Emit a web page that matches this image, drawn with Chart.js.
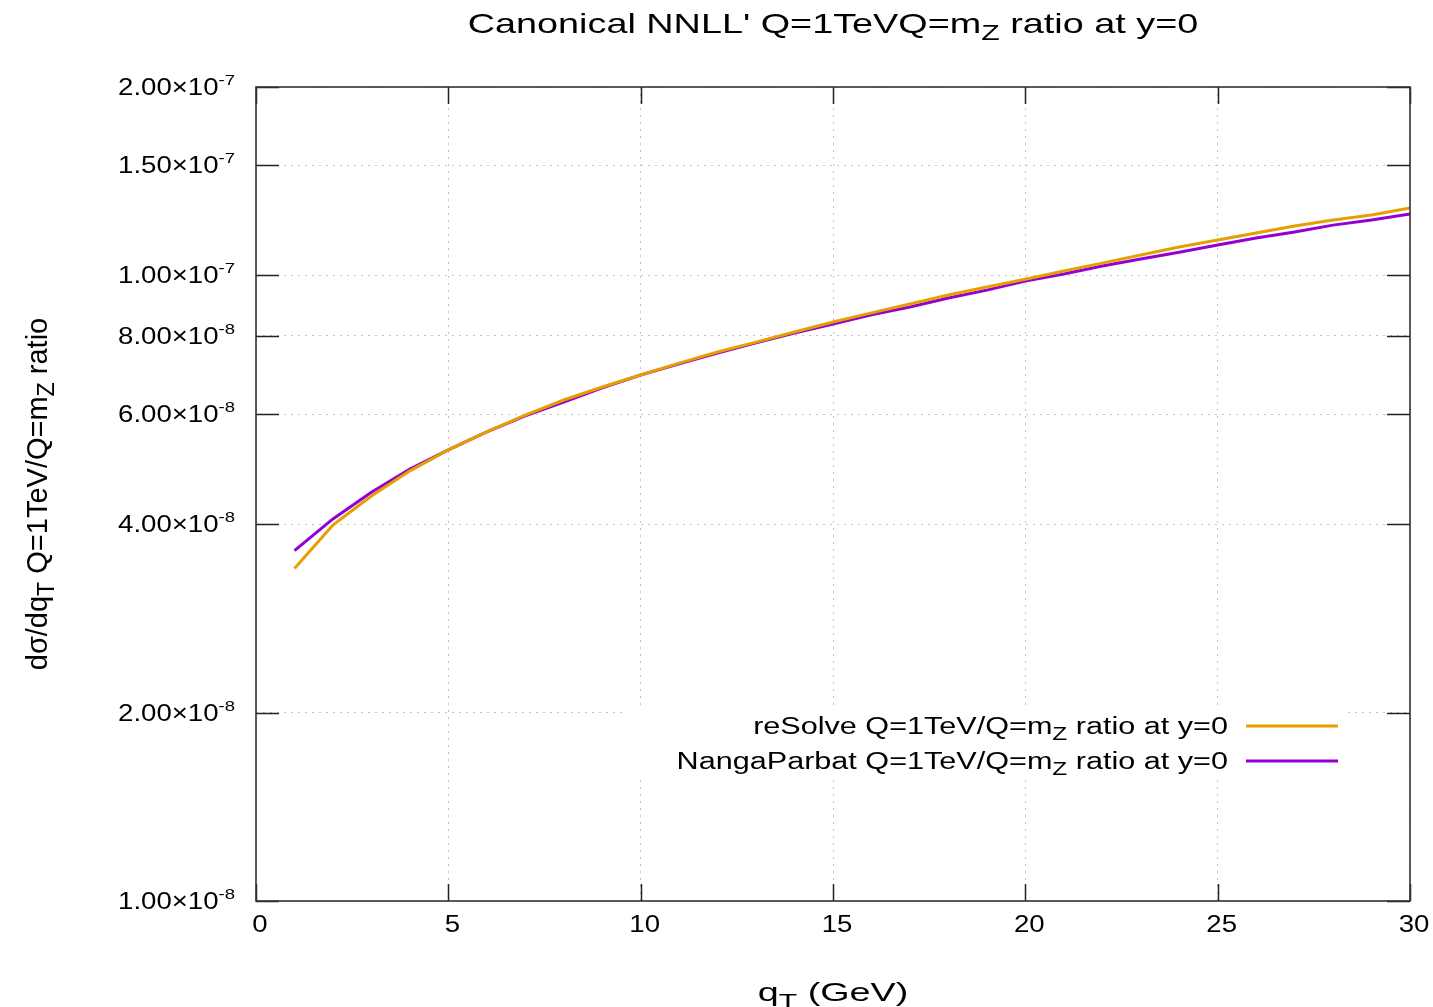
<!DOCTYPE html>
<html>
<head>
<meta charset="utf-8">
<script src="https://cdn.jsdelivr.net/npm/chart.js@4/dist/chart.umd.min.js"></script>
<style>
  html, body { margin: 0; padding: 0; background: #fff; }
  #wrap { width: 1433px; height: 1007px; }
</style>
</head>
<body>
<div id="wrap"><canvas id="ratioChart" width="1433" height="1007"></canvas></div>
<script>
// Data
const qT = [1, 2, 3, 4, 5, 6, 7, 8, 9, 10, 11, 12, 13, 14, 15, 16, 17, 18, 19, 20, 21, 22, 23, 24, 25, 26, 27, 28, 29, 30];
const reSolve = [3.40e-8, 3.99e-8, 4.44e-8, 4.87e-8, 5.26e-8, 5.62e-8, 5.98e-8, 6.32e-8, 6.63e-8, 6.93e-8,
    7.24e-8, 7.54e-8, 7.82e-8, 8.12e-8, 8.42e-8, 8.71e-8, 9.00e-8, 9.30e-8, 9.58e-8, 9.86e-8,
    10.16e-8, 10.46e-8, 10.78e-8, 11.10e-8, 11.39e-8, 11.69e-8, 11.99e-8, 12.26e-8, 12.49e-8, 12.81e-8];
const nangaParbat = [3.63e-8, 4.08e-8, 4.50e-8, 4.90e-8, 5.26e-8, 5.62e-8, 5.96e-8, 6.27e-8, 6.61e-8, 6.93e-8,
    7.22e-8, 7.51e-8, 7.80e-8, 8.09e-8, 8.36e-8, 8.65e-8, 8.90e-8, 9.20e-8, 9.47e-8, 9.79e-8,
    10.05e-8, 10.35e-8, 10.62e-8, 10.89e-8, 11.18e-8, 11.47e-8, 11.73e-8, 12.03e-8, 12.26e-8, 12.53e-8];

const xTicks = [0, 5, 10, 15, 20, 25, 30];
const yTickValues = [1e-8, 2e-8, 4e-8, 6e-8, 8e-8, 1e-7, 1.5e-7, 2e-7];
const yTickMantissa = ['1.00', '2.00', '4.00', '6.00', '8.00', '1.00', '1.50', '2.00'];
const yTickExponent = ['-8', '-8', '-8', '-8', '-8', '-7', '-7', '-7'];

const seriesNames = [
    [{ t: 'reSolve Q=1TeV/Q=m' }, { t: 'Z', sub: true }, { t: ' ratio at y=0' }],
    [{ t: 'NangaParbat Q=1TeV/Q=m' }, { t: 'Z', sub: true }, { t: ' ratio at y=0' }]
];
const seriesColors = ['#e69f00', '#9400d3'];

const FONT = "'Liberation Sans', Arial, sans-serif";

// draws text made of normal / sub / sup pieces, y is the baseline
function drawRich(ctx, parts, x, y, opt) {
    const size = opt.size;
    ctx.save();
    ctx.translate(x, y);
    if (opt.rotate) ctx.rotate(opt.rotate);
    ctx.scale(opt.sx || 1, 1);
    let w = 0;
    const items = parts.map(p => {
        const fs = p.sup ? size * 0.67 : p.sub ? size * 0.8 : size;
        ctx.font = fs + 'px ' + FONT;
        const it = { t: p.t, fs: fs, x: w, dy: p.sub ? size * 0.25 : p.sup ? -size * 0.43 : 0 };
        w += ctx.measureText(p.t).width;
        return it;
    });
    const x0 = opt.align === 'right' ? -w : opt.align === 'center' ? -w / 2 : 0;
    ctx.fillStyle = '#000';
    ctx.textBaseline = 'alphabetic';
    ctx.textAlign = 'left';
    items.forEach(it => {
        ctx.font = it.fs + 'px ' + FONT;
        ctx.fillText(it.t, x0 + it.x, it.dy);
    });
    ctx.restore();
}

const gnuplotDecor = {
    id: 'gnuplotDecor',
    afterDraw(chart) {
        const ctx = chart.ctx;
        const a = chart.chartArea;
        const xs = chart.scales.x;
        const ys = chart.scales.y;

        ctx.save();
        // inward tick marks
        ctx.strokeStyle = '#222';
        ctx.lineWidth = 1.5;
        ctx.beginPath();
        yTickValues.forEach(v => {
            const py = Math.round(ys.getPixelForValue(v)) + 0.5;
            ctx.moveTo(a.left, py); ctx.lineTo(a.left + 23, py);
            ctx.moveTo(a.right, py); ctx.lineTo(a.right - 23, py);
        });
        xTicks.forEach(v => {
            const px = Math.round(xs.getPixelForValue(v)) + 0.5;
            ctx.moveTo(px, a.bottom); ctx.lineTo(px, a.bottom - 17);
            ctx.moveTo(px, a.top); ctx.lineTo(px, a.top + 17);
        });
        ctx.stroke();

        // frame
        ctx.strokeStyle = '#333';
        ctx.lineWidth = 1.6;
        ctx.strokeRect(a.left, a.top, a.right - a.left, a.bottom - a.top);
        ctx.restore();

        // tick labels
        yTickValues.forEach((v, i) => {
            const py = ys.getPixelForValue(v);
            drawRich(ctx, [{ t: yTickMantissa[i] + '\u00d710' }, { t: yTickExponent[i], sup: true }],
                235, py + 8, { size: 23, sx: 1.2, align: 'right' });
        });
        xTicks.forEach(v => {
            const px = xs.getPixelForValue(v);
            drawRich(ctx, [{ t: String(v) }], px + 4, 932, { size: 23, sx: 1.2, align: 'center' });
        });

        // titles
        drawRich(ctx, [{ t: "Canonical NNLL' Q=1TeVQ=m" }, { t: 'Z', sub: true }, { t: ' ratio at y=0' }],
            833, 33, { size: 28, sx: 1.35, align: 'center' });
        drawRich(ctx, [{ t: 'q' }, { t: 'T', sub: true }, { t: ' (GeV)' }],
            833, 1001, { size: 26, sx: 1.45, align: 'center' });
        drawRich(ctx, [{ t: 'd\u03c3/dq' }, { t: 'T', sub: true }, { t: ' Q=1TeV/Q=m' }, { t: 'Z', sub: true }, { t: ' ratio' }],
            47, 494, { size: 29, sx: 1, align: 'center', rotate: -Math.PI / 2 });

        // legend with opaque box
        ctx.save();
        ctx.fillStyle = '#fff';
        ctx.fillRect(625, 706, 720, 72);
        const rows = [726, 761];
        rows.forEach((ry, i) => {
            drawRich(ctx, seriesNames[i], 1228, ry + 8, { size: 23, sx: 1.33, align: 'right' });
            ctx.strokeStyle = seriesColors[i];
            ctx.lineWidth = 3;
            ctx.beginPath();
            ctx.moveTo(1246, ry);
            ctx.lineTo(1338, ry);
            ctx.stroke();
        });
        ctx.restore();
    }
};

function makeSeries(values) {
    return values.map((v, i) => ({ x: qT[i], y: v }));
}

const ctx = document.getElementById('ratioChart').getContext('2d');
const ratioChart = new Chart(ctx, {
    type: 'line',
    data: {
        datasets: [
            {
                label: 'reSolve Q=1TeV/Q=mZ ratio at y=0',
                data: makeSeries(reSolve),
                borderColor: seriesColors[0],
                borderWidth: 3,
                pointRadius: 0,
                tension: 0,
                fill: false
            },
            {
                label: 'NangaParbat Q=1TeV/Q=mZ ratio at y=0',
                data: makeSeries(nangaParbat),
                borderColor: seriesColors[1],
                borderWidth: 3,
                pointRadius: 0,
                tension: 0,
                fill: false
            }
        ]
    },
    options: {
        responsive: false,
        devicePixelRatio: 1,
        animation: false,
        layout: { padding: { top: 87, right: 23, left: 0, bottom: 0 } },
        plugins: {
            legend: { display: false },
            title: { display: false },
            tooltip: { enabled: false }
        },
        scales: {
            x: {
                type: 'linear',
                min: 0,
                max: 30,
                afterBuildTicks: scale => { scale.ticks = xTicks.map(v => ({ value: v })); },
                ticks: { display: false },
                grid: { color: '#c4c4c4', lineWidth: 1, drawTicks: false },
                border: { display: false, dash: [2, 5] },
                afterFit: scale => { scale.height = 106; }
            },
            y: {
                type: 'logarithmic',
                min: 1e-8,
                max: 2e-7,
                afterBuildTicks: scale => { scale.ticks = yTickValues.map(v => ({ value: v })); },
                ticks: { display: false },
                grid: { color: '#c4c4c4', lineWidth: 1, drawTicks: false },
                border: { display: false, dash: [2, 5] },
                afterFit: scale => { scale.width = 256; }
            }
        }
    },
    plugins: [gnuplotDecor]
});
</script>
</body>
</html>
